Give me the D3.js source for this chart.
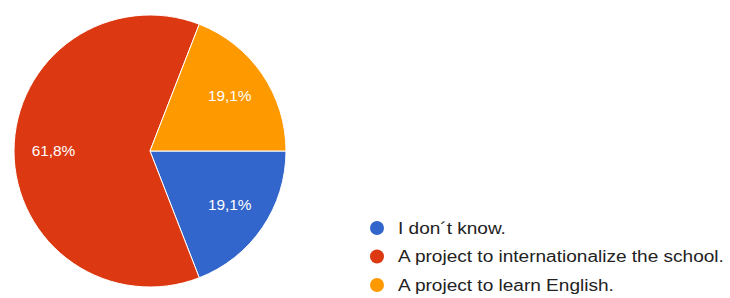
<!DOCTYPE html>
<html>
<head>
<meta charset="utf-8">
<script src="https://cdn.jsdelivr.net/npm/d3@7"></script>
<style>
  html, body { margin: 0; padding: 0; background: #fff; }
  svg { display: block; }
</style>
</head>
<body>
<svg id="chart" width="730" height="298"></svg>
<script>
// slice data, in drawing order (clockwise from 3 o'clock)
const categories = ['I don\u00b4t know.', 'A project to internationalize the school.', 'A project to learn English.'];
const values = [19.1, 61.8, 19.1];
const labels = ['19,1%', '61,8%', '19,1%'];
const colors = ['#3366cc', '#dc3912', '#ff9900'];

const width = 730, height = 298;
const cx = 150, cy = 151, radius = 136;

const svg = d3.select('#chart');

const pie = d3.pie()
  .sort(null)
  .startAngle(Math.PI / 2)
  .endAngle(Math.PI / 2 + 2 * Math.PI);

const arcs = pie(values);

const arc = d3.arc().innerRadius(0).outerRadius(radius);
const labelArc = d3.arc().innerRadius(radius * 0.71).outerRadius(radius * 0.71);

const g = svg.append('g')
  .attr('transform', `translate(${cx},${cy})`);

g.selectAll('path.slice')
  .data(arcs)
  .enter().append('path')
  .attr('class', 'slice')
  .attr('d', arc)
  .attr('fill', (d, i) => colors[i])
  .attr('stroke', '#fff')
  .attr('stroke-width', 1);

g.selectAll('text.pct')
  .data(arcs)
  .enter().append('text')
  .attr('class', 'pct')
  .attr('transform', d => `translate(${labelArc.centroid(d)}) scale(1.1,1)`)
  .attr('text-anchor', 'middle')
  .attr('dy', '0.35em')
  .style('font-family', 'Arial, "Liberation Sans", sans-serif')
  .style('font-size', '14px')
  .style('fill', '#fff')
  .text((d, i) => labels[i]);

// legend
const legendY = d3.scalePoint()
  .domain(categories)
  .range([228, 285]);

const legend = svg.selectAll('g.legend-item')
  .data(categories)
  .enter().append('g')
  .attr('class', 'legend-item')
  .attr('transform', d => `translate(377,${legendY(d)})`);

legend.append('circle')
  .attr('r', 7)
  .attr('fill', (d, i) => colors[i]);

// reference glyphs are a bit wider than Arial, so stretch horizontally
legend.append('text')
  .attr('transform', 'translate(21,0) scale(1.19,1)')
  .attr('dy', '0.35em')
  .style('font-family', 'Arial, "Liberation Sans", sans-serif')
  .style('font-size', '16px')
  .style('fill', '#222')
  .text(d => d);
</script>
</body>
</html>
